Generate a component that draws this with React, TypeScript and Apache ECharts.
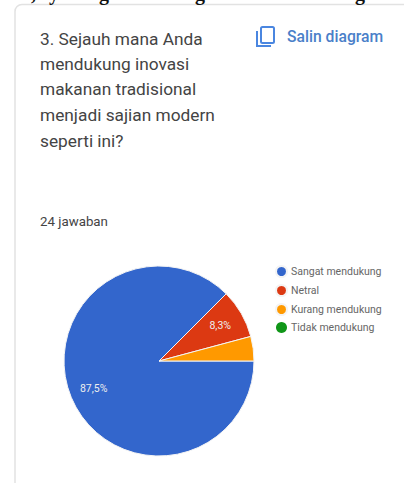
import React, { useEffect, useRef } from "react";
import * as echarts from "echarts";

const categories = ["Sangat mendukung", "Netral", "Kurang mendukung", "Tidak mendukung"];
const counts = [21, 2, 1, 0];
const colors = ["#3366cc", "#dc3912", "#ff9900", "#109618"];
const labelled = [true, true, false, false];
const questionLines = [
  "3. Sejauh mana Anda",
  "mendukung inovasi",
  "makanan tradisional",
  "menjadi sajian modern",
  "seperti ini?",
];
const questionY = [39, 64, 89, 115, 141];
const topFragments: [string, number][] = [[",", 31], ["y", 49], ["g", 99], ["g", 195], ["g", 355]];

const CX = 159;
const CY = 361;

export default function App() {
  const ref = useRef<HTMLDivElement>(null);
  useEffect(() => {
    const chart = echarts.init(ref.current!, undefined, { renderer: "svg" });
    chart.setOption({
      animation: false,
      backgroundColor: "#ffffff",
      legend: {
        orient: "vertical",
        left: 275,
        top: 265,
        itemWidth: 11,
        itemHeight: 11,
        itemGap: 6,
        icon: "circle",
        padding: 0,
        data: categories,
        textStyle: { fontFamily: "Roboto", fontSize: 10.5, color: "#666666", padding: [0, 0, 0, -1] },
      },
      series: [
        {
          type: "pie",
          center: [CX, CY],
          radius: [0, 95],
          startAngle: 0,
          clockwise: true,
          avoidLabelOverlap: false,
          stillShowZeroSum: false,
          label: {
            position: "inside",
            fontFamily: "Roboto",
            fontSize: 10.5,
            color: "#eeeeee",
            formatter: (p: any) => p.percent.toFixed(1).replace(".", ",") + "%",
          },
          labelLine: { show: false },
          labelLayout: (p: any) => {
            const x = p.labelRect.x + p.labelRect.width / 2;
            const y = p.labelRect.y + p.labelRect.height / 2;
            return { dx: (x - CX) * 0.4, dy: (y - CY) * 0.4 };
          },
          data: categories.map((name, i) => ({
            name,
            value: counts[i],
            itemStyle: {
              color: colors[i],
              borderColor: "#f4f4f4",
              borderWidth: counts[i] > 0 ? 1 : 0,
            },
            label: { show: labelled[i] },
          })),
        },
      ],
      graphic: {
        elements: [
          {
            type: "rect",
            silent: true,
            z: -1,
            shape: { x: 15, y: 4.5, width: 440, height: 520, r: 7 },
            style: { fill: "#ffffff", stroke: "#e2e2e2", lineWidth: 1.5 },
          },
          ...topFragments.map(([t, x]) => ({
            type: "text",
            silent: true,
            x,
            y: 2.5,
            style: {
              text: t,
              font: "bold 20px 'Liberation Serif'",
              fill: "#111111",
              verticalAlign: "bottom",
            },
          })),
          ...questionLines.map((text, i) => ({
            type: "text",
            silent: true,
            x: 40,
            y: questionY[i],
            style: {
              text,
              font: "17.3px Roboto",
              fill: "#444444",
              verticalAlign: "middle",
            },
          })),
          {
            type: "rect",
            silent: true,
            shape: { x: 261, y: 27, width: 13, height: 16, r: 1.5 },
            style: { fill: "none", stroke: "#4a86e0", lineWidth: 2 },
          },
          {
            type: "polyline",
            silent: true,
            shape: { points: [[257, 31], [257, 46], [271, 46]] },
            style: { fill: "none", stroke: "#4a86e0", lineWidth: 2 },
          },
          {
            type: "text",
            silent: true,
            x: 287,
            y: 36,
            style: {
              text: "Salin diagram",
              font: "500 15.7px Roboto",
              fill: "#4a7fc9",
              verticalAlign: "middle",
            },
          },
          {
            type: "text",
            silent: true,
            x: 40,
            y: 221,
            style: {
              text: "24 jawaban",
              font: "13.3px Roboto",
              fill: "#444444",
              verticalAlign: "middle",
            },
          },
        ],
      },
    });
    return () => chart.dispose();
  }, []);
  return (
    <div
      ref={ref}
      style={{ position: "absolute", left: 0, top: 0, width: 404, height: 483 }}
    />
  );
}
